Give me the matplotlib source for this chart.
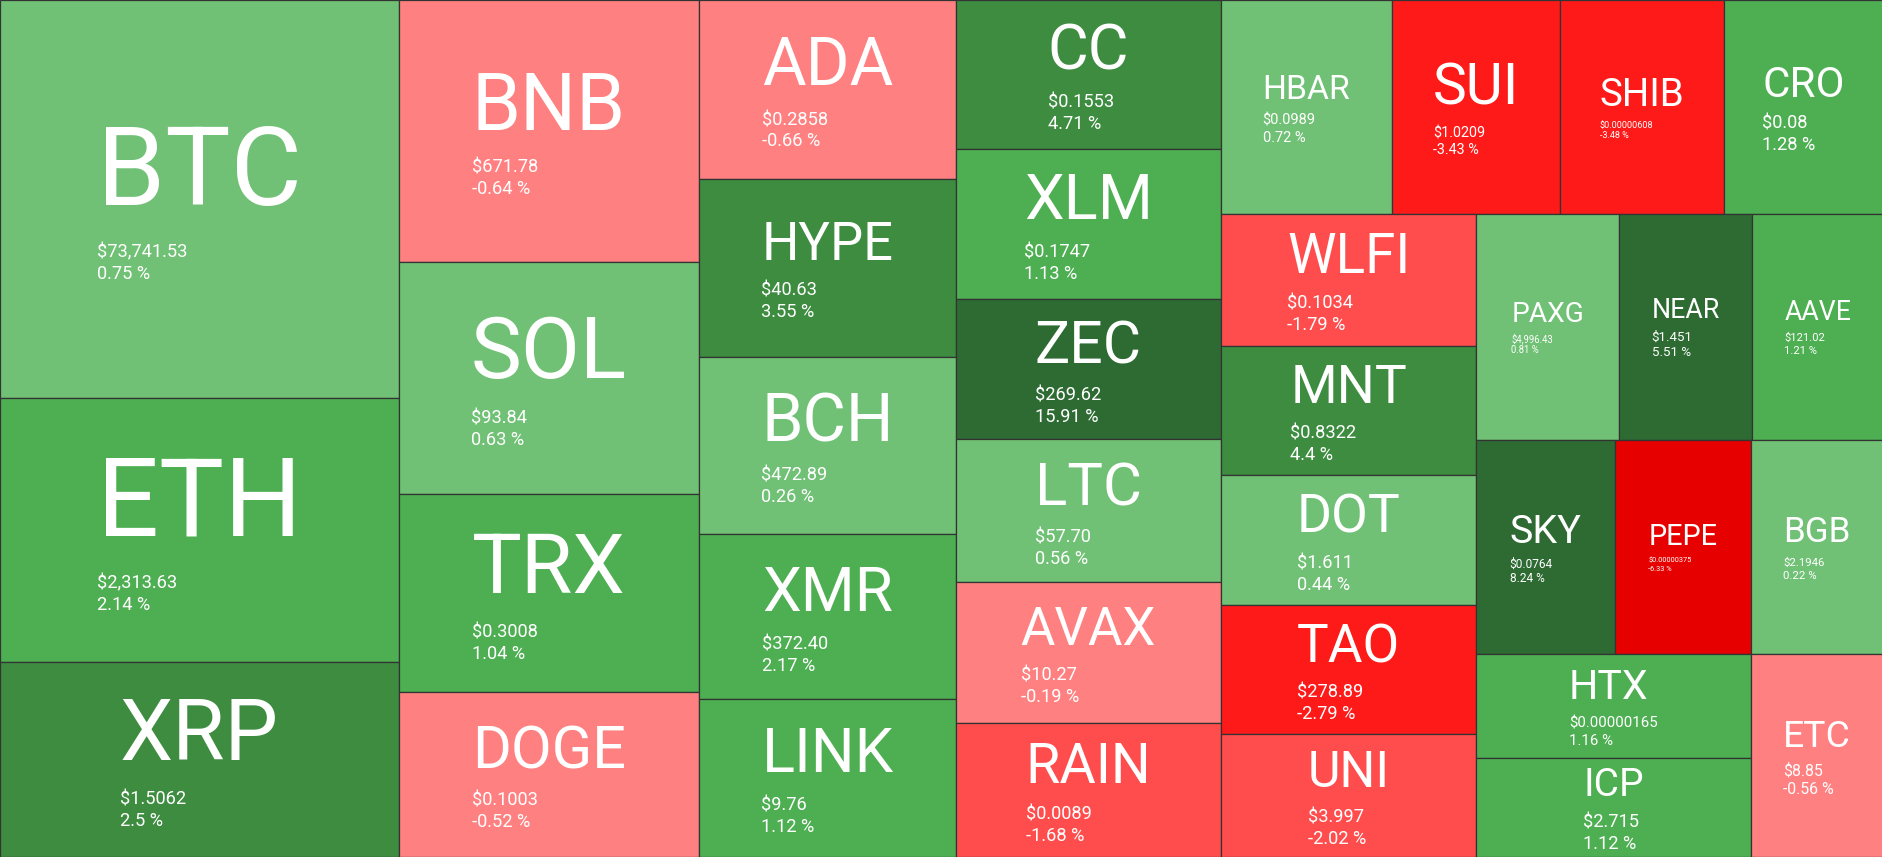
import matplotlib
matplotlib.use("Agg")
import matplotlib.pyplot as plt
from matplotlib.patches import Rectangle

# ---------------- data ----------------
symbols = ["BTC", "ETH", "XRP", "BNB", "SOL", "TRX", "DOGE", "ADA", "HYPE", "BCH",
           "XMR", "LINK", "CC", "XLM", "ZEC", "LTC", "AVAX", "RAIN", "HBAR", "SUI",
           "SHIB", "CRO", "WLFI", "MNT", "DOT", "TAO", "UNI", "PAXG", "NEAR", "AAVE",
           "SKY", "PEPE", "BGB", "HTX", "ICP", "ETC"]
# relative market-cap weights (cell areas)
weights = [158.4, 105.3, 77.8, 78.7, 69.8, 59.4, 49.7, 45.9, 45.6, 45.6,
           42.2, 40.6, 39.5, 39.8, 37.3, 37.9, 37.3, 35.6, 36.5, 35.9,
           35.1, 33.9, 33.7, 33.0, 33.0, 32.9, 31.3, 32.3, 30.1, 29.5,
           29.8, 29.1, 28.4, 28.5, 27.3, 26.8]
prices = ["$73,741.53", "$2,313.63", "$1.5062", "$671.78", "$93.84", "$0.3008", "$0.1003",
          "$0.2858", "$40.63", "$472.89", "$372.40", "$9.76", "$0.1553", "$0.1747",
          "$269.62", "$57.70", "$10.27", "$0.0089", "$0.0989", "$1.0209", "$0.00000608",
          "$0.08", "$0.1034", "$0.8322", "$1.611", "$278.89", "$3.997", "$4,996.43",
          "$1.451", "$121.02", "$0.0764", "$0.00000375", "$2.1946", "$0.00000165",
          "$2.715", "$8.85"]
changes = [0.75, 2.14, 2.5, -0.64, 0.63, 1.04, -0.52, -0.66, 3.55, 0.26,
           2.17, 1.12, 4.71, 1.13, 15.91, 0.56, -0.19, -1.68, 0.72, -3.43,
           -3.48, 1.28, -1.79, 4.4, 0.44, -2.79, -2.02, 0.81, 5.51, 1.21,
           8.24, -6.33, 0.22, 1.16, 1.12, -0.56]
# number of tiles in each successive strip of the squarified layout
strip_counts = [3, 4, 5, 6, 4, 5, 3, 3, 2, 1]

# ---------------- style ----------------
W, H = 1883, 857
DPI = 100
FONT = "Roboto"
CAP = 0.711  # Roboto cap-height / em


def color_for(c):
    if c >= 5:
        return "#2E6B33"
    if c >= 2.5:
        return "#3D8C40"
    if c >= 1:
        return "#4DAF52"
    if c >= 0:
        return "#70C175"
    if c > -1:
        return "#FF8080"
    if c > -2.5:
        return "#FF4D4D"
    if c > -5:
        return "#FF1A1A"
    return "#E60000"


def squarify_strips(vals, counts, x0, y0, w, h):
    total = sum(vals)
    areas = [v * w * h / total for v in vals]
    rects = []
    i = 0
    x, y = x0, y0
    for n in counts:
        strip = areas[i:i + n]
        s = sum(strip)
        if w >= h:
            sw = s / h
            yy = y
            for a in strip:
                ch = a / sw
                rects.append((x, yy, sw, ch))
                yy += ch
            x += sw
            w -= sw
        else:
            sh = s / w
            xx = x
            for a in strip:
                cw = a / sh
                rects.append((xx, y, cw, sh))
                xx += cw
            y += sh
            h -= sh
        i += n
    return rects


fig = plt.figure(figsize=(W / DPI, H / DPI), dpi=DPI)
ax = fig.add_axes([0, 0, 1, 1])
ax.set_xlim(0, W)
ax.set_ylim(H, 0)
ax.axis("off")
renderer = fig.canvas.get_renderer()

rects = squarify_strips(weights, strip_counts, 0, 0, W, H)


def text_width(s, fs):
    t = ax.text(0, 0, s, fontsize=fs, family=FONT)
    wpx = t.get_window_extent(renderer).width
    t.remove()
    return wpx


px2pt = 72.0 / DPI

for (x, y, w, h), sym, pr, ch in zip(rects, symbols, prices, changes):
    ax.add_patch(Rectangle((x, y), w, h, facecolor=color_for(ch),
                           edgecolor="#333333", linewidth=0.9))
    # ticker size: fit ~51% of width, limited by height
    w10 = text_width(sym, 10)
    fs_t_pt_w = 10 * 0.51 * w / w10
    fs_t_px_h = max((0.34 * h - 6) / CAP, 5)
    fs_t_pt = min(fs_t_pt_w, fs_t_px_h * px2pt)
    fs_t_px = fs_t_pt / px2pt
    # price size: per-character fit, capped
    fs_p_px = min(18.3, 0.60 * w / len(pr))
    fs_p_pt = fs_p_px * px2pt
    pct = f"{ch:g} %"

    cap_t = CAP * fs_t_px
    cap_p = CAP * fs_p_px
    gap = 0.3 * fs_t_px + 0.25 * fs_p_px + 2
    line = 1.17 * fs_p_px
    block_h = cap_t + gap + cap_p + line
    cy = y + h / 2 + 0.04 * fs_t_px
    top = cy - block_h / 2
    yb_t = top + cap_t
    yb_p = yb_t + gap + cap_p
    yb_c = yb_p + line

    wt = text_width(sym, fs_t_pt)
    wp = text_width(pr, fs_p_pt)
    wc = text_width(pct, fs_p_pt)
    bw = max(wt, wp, wc)
    left = x + w / 2 - bw / 2

    ax.text(left, yb_t, sym, fontsize=fs_t_pt, family=FONT, color="white",
            ha="left", va="baseline")
    ax.text(left, yb_p, pr, fontsize=fs_p_pt, family=FONT, color="white",
            ha="left", va="baseline")
    ax.text(left, yb_c, pct, fontsize=fs_p_pt, family=FONT, color="white",
            ha="left", va="baseline")

fig.savefig("out.png", dpi=DPI)
